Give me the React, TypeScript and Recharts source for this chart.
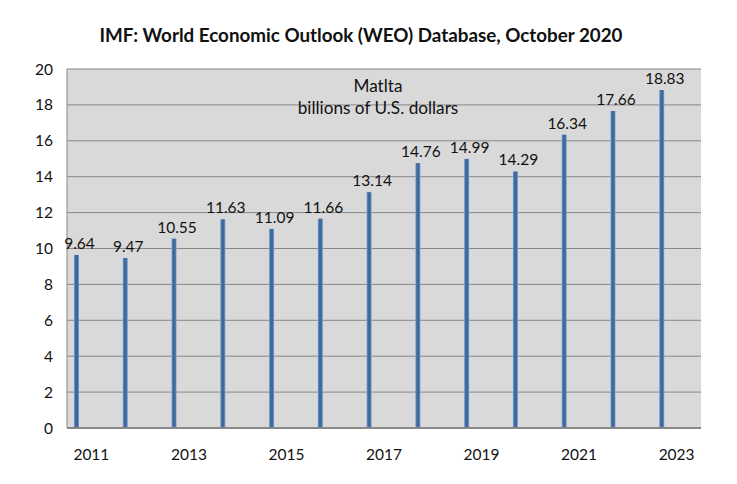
import React from 'react';
import { Bar, BarChart, CartesianGrid, LabelList, XAxis, YAxis } from 'recharts';

const years = ['2011', '2012', '2013', '2014', '2015', '2016', '2017', '2018', '2019', '2020', '2021', '2022', '2023'];
const gdp = [9.64, 9.47, 10.55, 11.63, 11.09, 11.66, 13.14, 14.76, 14.99, 14.29, 16.34, 17.66, 18.83];
const yTicks = [0, 2, 4, 6, 8, 10, 12, 14, 16, 18, 20];

const data = years.map((year, i) => ({ year, value: gdp[i] }));

const FONT = 'Lato, "Open Sans", sans-serif';
const SHIFT = -15; // Excel draws these thin bars left of the band centre

const ThinBar = (props: any) => {
	const { x, y, width, height } = props;
	if (!height) return null;
	return (
		<rect
			x={x + SHIFT}
			y={y}
			width={width}
			height={height}
			fill="url(#barGrad)"
		/>
	);
};

const ValueLabel = (props: any) => {
	const { x, y, width, value } = props;
	return (
		<text
			x={x + width / 2 + SHIFT + 3}
			y={y - 6}
			textAnchor="middle"
			fontSize={15.5}
			fill="#111"
			fontFamily={FONT}
		>
			{value.toFixed(2)}
		</text>
	);
};

const App = () => {
	return (
		<div style={{ position: 'absolute', left: 0, top: 0, width: 737, height: 484, background: '#fff', fontFamily: FONT }}>
			<svg width={0} height={0} style={{ position: 'absolute' }}>
				<defs>
					<linearGradient id="barGrad" x1="0" x2="1" y1="0" y2="0">
						<stop offset="0%" stopColor="#7fa3d2" />
						<stop offset="30%" stopColor="#3f689c" />
						<stop offset="70%" stopColor="#3f689c" />
						<stop offset="100%" stopColor="#7fa3d2" />
					</linearGradient>
				</defs>
			</svg>
			<div
				style={{
					position: 'absolute',
					top: 23,
					left: 0,
					width: 722,
					textAlign: 'center',
					fontSize: 18.8,
					fontWeight: 700,
					color: '#111',
				}}
			>
				IMF: World Economic Outlook (WEO) Database, October 2020
			</div>
			<BarChart
				width={737}
				height={484}
				data={data}
				margin={{ top: 69, right: 36, bottom: 26, left: 7 }}
				barSize={5}
			>
				<CartesianGrid
					horizontal
					vertical={false}
					fill="#d9d9d9"
					stroke="#888"
					strokeWidth={1}
				/>
				<XAxis
					dataKey="year"
					interval={1}
					height={30}
					tickSize={0}
					tickMargin={21}
					axisLine={{ stroke: '#888', strokeWidth: 2 }}
					tick={{ fontSize: 15.5, fill: '#111', fontFamily: FONT }}
				/>
				<YAxis
					domain={[0, 20]}
					ticks={yTicks}
					width={60}
					tickSize={0}
					tickMargin={14}
					axisLine={{ stroke: '#888', strokeWidth: 1 }}
					tick={{ fontSize: 15.5, fill: '#111', fontFamily: FONT }}
				/>
				<Bar dataKey="value" shape={ThinBar} isAnimationActive={false}>
					<LabelList dataKey="value" content={ValueLabel} />
				</Bar>
			</BarChart>
			<div
				style={{
					position: 'absolute',
					top: 75,
					left: 270,
					width: 216,
					textAlign: 'center',
					fontSize: 17.2,
					lineHeight: '22px',
					color: '#111',
				}}
			>
				Matlta
				<br />
				billions of U.S. dollars
			</div>
		</div>
	);
};

export default App;
